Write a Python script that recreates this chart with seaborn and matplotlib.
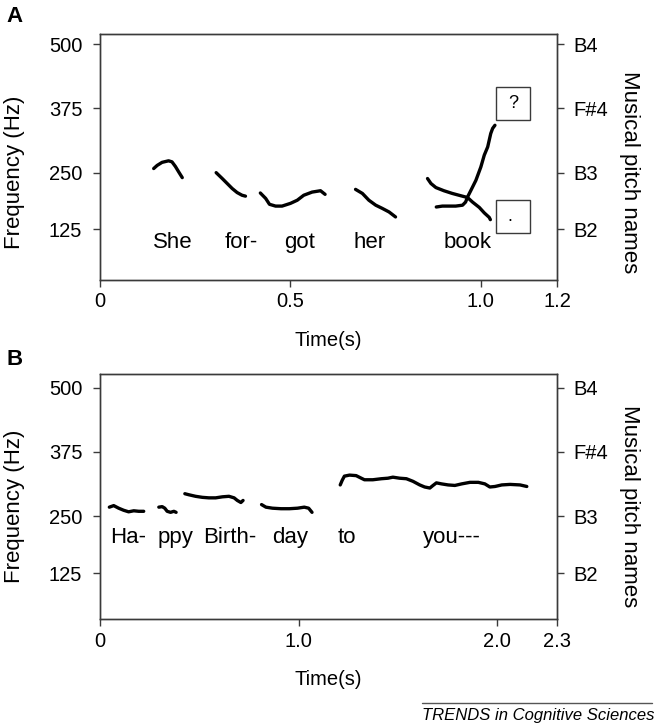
import numpy as np
import pandas as pd
import matplotlib
matplotlib.use("Agg")
import matplotlib.pyplot as plt
from matplotlib.patches import Rectangle
from matplotlib.lines import Line2D
import seaborn as sns

# ---- Panel A: "She for-got her book" (statement vs question ending) ----
she_t = [0.141, 0.150, 0.163, 0.180, 0.189, 0.198, 0.207, 0.216]
she_hz = [258, 264, 270, 273, 271, 262, 251, 239]
for_t = [0.305, 0.321, 0.334, 0.347, 0.360, 0.373, 0.382]
for_hz = [250, 237, 226, 215, 206, 200, 198]
got_t = [0.421, 0.435, 0.445, 0.461, 0.478, 0.500, 0.518, 0.535, 0.557, 0.579, 0.591]
got_hz = [205, 193, 180, 176, 176, 182, 189, 200, 207, 210, 202]
her_t = [0.671, 0.689, 0.706, 0.724, 0.741, 0.759, 0.776]
her_hz = [213, 204, 189, 178, 171, 163, 152]
book_st_t = [0.860, 0.869, 0.882, 0.903, 0.925, 0.947, 0.965, 0.978, 0.996, 1.009, 1.022, 1.025]
book_st_hz = [237, 226, 217, 210, 204, 199, 195, 185, 173, 161, 151, 146]
book_q_t = [0.883, 0.899, 0.917, 0.934, 0.952, 0.960, 0.965, 0.974, 0.987, 1.000,
            1.009, 1.018, 1.022, 1.026, 1.031, 1.037]
book_q_hz = [174, 176, 176, 176, 178, 185, 196, 211, 233, 261, 284, 300, 313, 326, 336, 342]

syll_a = ["She", "for-", "got", "her", "book"]
syll_a_t = [0.191, 0.370, 0.523, 0.709, 0.964]

# ---- Panel B: "Happy Birthday to you" ----
ha_t = [0.047, 0.069, 0.094, 0.119, 0.144, 0.170, 0.195, 0.220]
ha_hz = [268, 271, 266, 262, 259, 261, 260, 260]
ppy_t = [0.296, 0.313, 0.326, 0.338, 0.355, 0.372, 0.383]
ppy_hz = [268, 269, 266, 260, 258, 260, 258]
birth_t = [0.427, 0.447, 0.481, 0.515, 0.548, 0.582, 0.616, 0.649, 0.675, 0.691, 0.709, 0.720]
birth_hz = [294, 292, 289, 287, 286, 286, 288, 289, 286, 281, 277, 281]
day_t = [0.813, 0.835, 0.868, 0.911, 0.953, 0.994, 1.028, 1.050, 1.067]
day_hz = [273, 268, 266, 265, 265, 266, 268, 266, 258]
toyou_t = [1.209, 1.219, 1.230, 1.256, 1.289, 1.315, 1.331, 1.373, 1.416, 1.449, 1.474,
           1.508, 1.542, 1.575, 1.609, 1.634, 1.660, 1.676, 1.693, 1.719, 1.752, 1.786,
           1.820, 1.862, 1.904, 1.937, 1.962, 1.988, 2.022, 2.064, 2.114, 2.148]
toyou_hz = [311, 320, 328, 330, 329, 324, 321, 321, 323, 324, 326,
            324, 323, 318, 311, 307, 305, 310, 315, 313, 311, 310,
            313, 316, 316, 313, 307, 308, 311, 312, 311, 308]

syll_b = ["Ha-", "ppy", "Birth-", "day", "to", "you---"]
syll_b_t = [0.144, 0.382, 0.654, 0.958, 1.243, 1.773]

hz_ticks = [125, 250, 375, 500]
pitch_names = ["B2", "B3", "F#4", "B4"]

# the printed frequency axis is not quite linear: piecewise mapping between ticks
HZ_KNOTS = [-1000, 125, 250, 375, 500, 2000]
POS_KNOTS = [-509.4, 0, 56.6, 121.1, 185.2, 954.4]


def fwd(f):
    return np.interp(f, HZ_KNOTS, POS_KNOTS)


def inv(p):
    return np.interp(p, POS_KNOTS, HZ_KNOTS)


def to_df(segs):
    frames = []
    for name, t, hz in segs:
        frames.append(pd.DataFrame({"time": t, "hz": hz, "seg": name}))
    return pd.concat(frames, ignore_index=True)


sns.set_theme(style="ticks")
plt.rcParams["font.family"] = ["Liberation Sans", "DejaVu Sans"]
plt.rcParams["axes.edgecolor"] = "#3a3a3a"
plt.rcParams["axes.linewidth"] = 1.0
plt.rcParams["text.color"] = "black"
plt.rcParams["axes.labelcolor"] = "black"
plt.rcParams["xtick.color"] = "black"
plt.rcParams["ytick.color"] = "black"

fig = plt.figure(figsize=(6.54, 7.26), dpi=100)
ax_a = fig.add_axes([0.1529, 0.6143, 0.6988, 0.3384])
ax_b = fig.add_axes([0.1529, 0.1470, 0.6988, 0.3375])

df_a = to_df([("she", she_t, she_hz), ("for", for_t, for_hz), ("got", got_t, got_hz),
              ("her", her_t, her_hz), ("book_st", book_st_t, book_st_hz),
              ("book_q", book_q_t, book_q_hz)])
df_b = to_df([("ha", ha_t, ha_hz), ("ppy", ppy_t, ppy_hz), ("birth", birth_t, birth_hz),
              ("day", day_t, day_hz), ("toyou", toyou_t, toyou_hz)])


def setup(ax, df, xlim, xticks, xticklabels, ylim, lab_y):
    ax.set_yscale("function", functions=(fwd, inv))
    sns.lineplot(data=df, x="time", y="hz", units="seg", estimator=None, sort=False,
                 color="black", lw=2.4, legend=False, ax=ax)
    ax.set_xlim(*xlim)
    ax.set_ylim(*ylim)
    ax.set_xticks(xticks)
    ax.set_xticklabels(xticklabels)
    ax.set_yticks(hz_ticks)
    ax.set_yticklabels([str(v) for v in hz_ticks])
    ax.minorticks_off()
    ax.tick_params(axis="both", labelsize=14.5, length=4.8, width=1, color="#3a3a3a")
    ax.tick_params(axis="x", pad=4)
    ax.tick_params(axis="y", pad=8)
    ax.set_xlabel("Time(s)", fontsize=14.5)
    ax.set_ylabel("Frequency (Hz)", fontsize=16)
    ax.xaxis.label.set_va("center")
    ax.yaxis.label.set_va("center")
    ax.xaxis.set_label_coords(0.5, -0.245)
    ax.yaxis.set_label_coords(-0.186, lab_y)

    ax2 = ax.twinx()
    ax2.set_yscale("function", functions=(fwd, inv))
    ax2.set_ylim(*ylim)
    ax2.set_yticks(hz_ticks)
    ax2.set_yticklabels(pitch_names)
    ax2.minorticks_off()
    ax2.tick_params(axis="y", labelsize=14.5, length=4.8, width=1, pad=7, color="#3a3a3a")
    ax2.set_ylabel("Musical pitch names", fontsize=16, rotation=270)
    ax2.yaxis.label.set_va("center")
    ax2.yaxis.set_label_coords(1.158, lab_y)
    return ax2


setup(ax_a, df_a, (0, 1.2), [0, 0.5, 1.0, 1.2], ["0", "0.5", "1.0", "1.2"], (12.4, 519.5), 0.44)
setup(ax_b, df_b, (0, 2.3), [0, 1.0, 2.0, 2.3], ["0", "1.0", "2.0", "2.3"], (23.4, 526), 0.46)

for word, t in zip(syll_a, syll_a_t):
    ax_a.text(t, 83, word, ha="center", va="baseline", fontsize=16)
for word, t in zip(syll_b, syll_b_t):
    ax_b.text(t, 192, word, ha="center", va="baseline", fontsize=16)

# question / statement boxes at the end of "book"
ax_a.add_patch(Rectangle((1.039, 352), 0.09, 64, fill=False, ec="#3a3a3a", lw=1.0))
ax_a.text(1.084, 384, "?", ha="center", va="center", fontsize=13)
ax_a.add_patch(Rectangle((1.039, 115.5), 0.09, 73.5, fill=False, ec="#3a3a3a", lw=1.0))
ax_a.text(1.075, 152, ".", ha="center", va="center", fontsize=13)

fig.text(6 / 654, 1 - 6 / 726, "A", fontsize=16, fontweight="bold", va="top", ha="left")
fig.text(6 / 654, 1 - 349 / 726, "B", fontsize=16, fontweight="bold", va="top", ha="left")

fig.add_artist(Line2D([421.7 / 654, 651.7 / 654], [1 - 703.3 / 726] * 2, color="#555555", lw=1))
fig.text(421.7 / 654, 1 - 715.5 / 726, "TRENDS in Cognitive Sciences", fontsize=12,
         style="italic", ha="left", va="center")

fig.savefig("out.png", dpi=100)
